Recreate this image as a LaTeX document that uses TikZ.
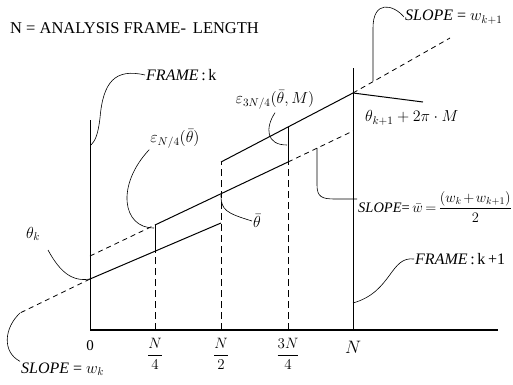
\RequirePackage{fix-cm}
\documentclass[tikz,border=0pt]{standalone}
\usepackage{fontspec}
\setmainfont{Liberation Serif}
\usepackage{amsmath}
\usetikzlibrary{positioning}

\tikzset{
  lbl/.style={font=\fontsize{16}{18}\selectfont, inner sep=1pt},
  ticklbl/.style={font=\fontsize{15}{17}\selectfont, inner sep=1pt},
  leader/.style={line width=0.6pt},
  phase/.style={line width=1pt},
  ext/.style={dash pattern=on 5pt off 4pt, line width=0.8pt},
  tickline/.style={dash pattern=on 7pt off 4pt, line width=0.7pt},
  frameline/.style={line width=0.8pt},
  axisline/.style={line width=1.4pt}
}

\begin{document}
\begin{tikzpicture}[x=1pt, y=-1pt]
\useasboundingbox (0,0) rectangle (513,384);

% axis and frame borders
\coordinate (o) at (90,330);
\coordinate (ax) at (498,330);
\coordinate (nN) at (353,330);
\coordinate (fk) at (90,120);
\coordinate (fk1) at (353,68);
\coordinate (q1) at (155,330);
\coordinate (q2) at (221,330);
\coordinate (q3) at (288,330);

% phase track points
\coordinate (thk) at (90,279);
\coordinate (wk) at (20,313);
\coordinate (a1) at (155,251);
\coordinate (a2) at (221,223);
\coordinate (b0) at (90,256);
\coordinate (b1) at (155,225);
\coordinate (b3) at (288,162);
\coordinate (bN) at (353,131);
\coordinate (c2) at (221,162);
\coordinate (c3) at (288,127);
\coordinate (cN) at (353,93);
\coordinate (wk1) at (450,38);
\coordinate (thk1) at (423,102);

\draw[axisline] (o) -- (ax);
\draw[frameline] (fk) -- (o);
\draw[frameline] (fk1) -- (nN);

\draw[tickline] (q1) -- (a1);
\draw[phase] (a1) -- (b1);
\draw[tickline] (q2) -- (c2);
\draw[tickline] (q3) -- (b3);
\draw[phase] (b3) -- (c3);

\draw[phase] (thk) -- (a2);
\draw[ext] (b0) -- (b1);
\draw[phase] (b1) -- (b3);
\draw[ext] (b3) -- (bN);
\draw[phase] (c2) -- (cN) -- (thk1);
\draw[ext] (cN) -- (wk1);
\draw[ext] (thk) -- (wk);

% axis labels
\node[ticklbl] (t0) at (90,346) {0};
\node[ticklbl] (t1) at (155,354) {$\dfrac{N}{4}$};
\node[ticklbl] (t2) at (221,354) {$\dfrac{N}{2}$};
\node[ticklbl] (t3) at (288,354) {$\dfrac{3N}{4}$};
\node[lbl, font=\fontsize{18}{20}\selectfont] (t4) at (353,347) {$N$};

% texts
\node[lbl, anchor=west, font=\fontsize{16.5}{19}\selectfont] (title) at (9,28) {N = ANALYSIS FRAME- \,LENGTH};
\node[lbl, anchor=west] (framek) at (145,75) {\textit{FRAME}\,:\,k};
\node[lbl, anchor=west] (framek1) at (414,259) {\textit{FRAME}\,:\,k\,+1};
\node[lbl, anchor=west] (slopek1) at (404,17) {\textit{SLOPE} = $w_{k+1}$};
\node[lbl, anchor=west] (slopek) at (20,369) {\textit{SLOPE} = $w_k$};
\node[lbl, anchor=west, font=\fontsize{14.5}{17}\selectfont] (slopebar) at (357,207)
  {\textit{SLOPE}=\,$\bar{w}\mkern-2mu=\mkern-2mu\dfrac{(w_k\mkern-2mu+\mkern-2mu w_{k+1})}{2}$};
\node[lbl] (thklbl) at (33,234) {$\theta_k$};
\node[lbl, anchor=west] (thk1lbl) at (364,118) {$\theta_{k+1}+2\pi\cdot M$};
\node[lbl] (thbar) at (257,221) {$\bar{\theta}$};
\node[lbl] (eps1) at (175,139) {$\varepsilon_{N/4}(\bar{\theta})$};
\node[lbl] (eps3) at (275,100) {$\varepsilon_{3N/4}(\bar{\theta},M)$};

% leaders
\draw[leader] (framek.west) .. controls (115,68) and (103,82) .. (100,118)
  .. controls (98,135) and (95,141) .. (91,145);
\draw[leader] (slopek1.west) .. controls (393,4) and (373,0) .. (373,28) -- (373,81);
\draw[leader] (wk) .. controls (4,328) and (2,352) .. (slopek.north west);
\draw[leader] (48,250) .. controls (60,272) and (72,282) .. (thk);
\draw[leader] (eps1.south west) .. controls (116,185) and (122,228) .. (154,228);
\draw[leader] (eps3.south) ++(0,2) .. controls (265,128) and (266,145) .. (287,145);
\draw[leader] (221,195) .. controls (221,210) and (226,213) .. (thbar.west);
\draw[leader] (317,148) -- (317,185) .. controls (317,197) and (322,199) .. (335,199) -- (slopebar.west |- 0,199);
\draw[leader] (framek1.west) .. controls (390,256) and (392,292) .. (353,303);
\end{tikzpicture}
\end{document}
